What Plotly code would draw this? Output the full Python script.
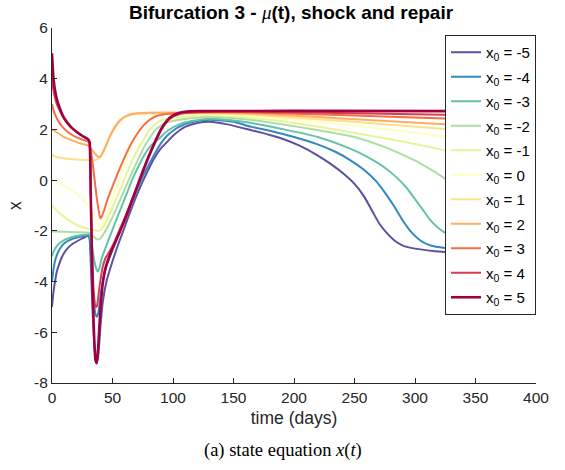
import plotly.graph_objects as go

# ---- data (time in days, state x) ----
X0_LABELS = ["-5", "-4", "-3", "-2", "-1", "0", "1", "2", "3", "4", "5"]
COLORS = ["#5e4fa2", "#3288bd", "#66c2a5", "#abdda4", "#e6f598", "#ffffbf",
          "#fee08b", "#fdae61", "#f46d43", "#d53e4f", "#9e0142"]

T_M5 = [0, 1, 2, 4, 6, 8, 10, 13, 16, 20, 25, 30, 31, 32, 33, 34, 35, 36, 37, 38, 39, 40, 42, 45, 50, 55, 60, 65, 70, 75, 80, 85, 90, 95, 100, 105, 110, 120, 130, 145, 164, 180, 191, 205, 219, 230, 241, 250, 258, 265, 271, 277, 283, 290, 300, 315, 336]
X_M5 = [-5.0, -4.5, -4.15, -3.6, -3.3, -3.05, -2.87, -2.68, -2.55, -2.43, -2.3, -2.2, -2.3, -3.2, -4.5, -5.6, -6.5, -7.05, -7.2, -7.0, -6.5, -5.8, -4.8, -4.0, -3.2, -2.5, -1.85, -1.2, -0.6, -0.05, 0.45, 0.9, 1.25, 1.5, 1.75, 1.95, 2.1, 2.25, 2.3, 2.2, 1.98, 1.78, 1.62, 1.35, 0.99, 0.65, 0.25, -0.15, -0.65, -1.25, -1.75, -2.1, -2.38, -2.58, -2.7, -2.79, -2.86]

T_M4 = [0, 1, 2, 4, 6, 8, 10, 13, 16, 20, 25, 30, 31, 32, 33, 34, 35, 36, 37, 38, 39, 40, 42, 45, 50, 55, 60, 65, 70, 75, 80, 85, 90, 95, 100, 105, 115, 130, 150, 164, 180, 200, 219, 235, 246, 258, 268, 276, 283, 290, 297, 305, 313, 325, 336]
X_M4 = [-4.0, -3.6, -3.3, -2.95, -2.75, -2.6, -2.5, -2.4, -2.33, -2.27, -2.21, -2.17, -2.2, -2.8, -3.7, -4.5, -5.0, -5.3, -5.39, -5.3, -5.0, -4.6, -4.0, -3.4, -2.75, -2.15, -1.55, -0.95, -0.4, 0.15, 0.6, 1.05, 1.45, 1.75, 1.95, 2.1, 2.28, 2.38, 2.3, 2.11, 1.95, 1.7, 1.42, 1.1, 0.8, 0.4, -0.05, -0.55, -1.05, -1.6, -2.05, -2.4, -2.58, -2.68, -2.73]

T_M3 = [0, 1, 2, 4, 6, 8, 10, 13, 16, 20, 25, 30, 31, 33, 35, 37, 38, 39, 41, 44, 48, 52, 57, 62, 67, 72, 77, 82, 88, 93, 100, 110, 130, 150, 164, 190, 219, 246, 262, 274, 285, 293, 300, 307, 313, 320, 329, 336]
X_M3 = [-3.0, -2.85, -2.75, -2.6, -2.5, -2.43, -2.37, -2.3, -2.25, -2.2, -2.16, -2.13, -2.15, -2.6, -3.2, -3.55, -3.6, -3.5, -3.1, -2.7, -2.2, -1.7, -1.1, -0.5, 0.1, 0.6, 1.05, 1.38, 1.62, 1.85, 2.08, 2.28, 2.42, 2.35, 2.26, 2.02, 1.71, 1.25, 0.88, 0.53, 0.1, -0.3, -0.75, -1.2, -1.6, -1.92, -2.2, -2.4]

T_M2 = [0, 10, 20, 30, 32, 34, 36, 38, 40, 43, 47, 52, 57, 62, 67, 72, 76, 80, 85, 90, 95, 105, 130, 165, 190, 219, 250, 274, 290, 301, 310, 318, 325, 331, 336]
X_M2 = [-2.03, -2.04, -2.05, -2.06, -2.1, -2.2, -2.3, -2.34, -2.3, -2.1, -1.75, -1.25, -0.7, -0.15, 0.4, 0.9, 1.3, 1.6, 1.95, 2.15, 2.27, 2.38, 2.5, 2.37, 2.2, 1.98, 1.7, 1.32, 1.0, 0.75, 0.5, 0.28, 0.05, -0.2, -0.45]

T_M1 = [0, 2, 5, 10, 15, 20, 25, 30, 33, 36, 38, 40, 43, 47, 52, 57, 62, 67, 72, 76, 80, 85, 90, 100, 130, 165, 220, 275, 305, 336]
X_M1 = [-1.0, -1.1, -1.25, -1.45, -1.62, -1.75, -1.85, -1.92, -1.96, -1.99, -2.0, -1.97, -1.8, -1.4, -0.85, -0.3, 0.3, 0.85, 1.3, 1.62, 1.95, 2.2, 2.35, 2.46, 2.56, 2.46, 2.11, 1.65, 1.38, 1.06]

T_0 = [0, 5, 10, 15, 20, 25, 30, 33, 36, 38, 40, 42, 45, 50, 55, 60, 65, 70, 75, 80, 85, 90, 100, 130, 165, 210, 250, 290, 336]
X_0 = [0.0, -0.1, -0.22, -0.37, -0.53, -0.75, -1.0, -1.2, -1.5, -1.7, -1.84, -1.75, -1.35, -0.68, -0.03, 0.63, 1.28, 1.8, 2.15, 2.38, 2.5, 2.56, 2.6, 2.6, 2.53, 2.35, 2.15, 1.93, 1.65]

T_P1 = [0, 2, 5, 10, 15, 20, 25, 30, 35, 38, 39.5, 41, 44, 48, 52, 56, 60, 65, 70, 80, 100, 130, 165, 250, 290, 336]
X_P1 = [1.0, 0.95, 0.9, 0.86, 0.83, 0.81, 0.8, 0.79, 0.78, 0.84, 0.89, 0.97, 1.27, 1.72, 2.07, 2.32, 2.47, 2.57, 2.61, 2.63, 2.63, 2.63, 2.58, 2.3, 2.15, 1.98]

T_P2 = [0, 5, 10, 15, 20, 25, 30, 33, 36, 38, 39.5, 41, 44, 48, 52, 56, 60, 65, 70, 80, 100, 130, 165, 250, 336]
X_P2 = [2.0, 1.85, 1.7, 1.6, 1.5, 1.43, 1.36, 1.2, 1.02, 0.93, 0.92, 1.0, 1.3, 1.75, 2.1, 2.35, 2.5, 2.6, 2.64, 2.66, 2.67, 2.66, 2.63, 2.4, 2.17]

T_P3 = [0, 1, 2, 4, 6, 8, 10, 13, 16, 20, 25, 30, 31, 33, 35, 37, 39, 40, 41, 43, 46, 50, 55, 60, 65, 70, 75, 80, 85, 90, 100, 130, 165, 250, 336]
X_P3 = [3.0, 2.8, 2.65, 2.43, 2.27, 2.14, 2.03, 1.9, 1.8, 1.7, 1.6, 1.52, 1.45, 0.9, 0.1, -0.7, -1.3, -1.5, -1.45, -1.2, -0.75, -0.25, 0.35, 0.9, 1.4, 1.8, 2.12, 2.35, 2.5, 2.58, 2.63, 2.68, 2.67, 2.55, 2.41]

T_P4 = [0, 1, 2, 4, 6, 8, 10, 13, 16, 20, 25, 30, 31, 32, 33, 34, 35, 36, 37, 38, 39, 40, 41, 42, 44, 47, 50, 55, 60, 65, 70, 75, 80, 85, 90, 95, 100, 105, 110, 130, 165, 250, 336]
X_P4 = [4.0, 3.6, 3.35, 3.0, 2.78, 2.58, 2.42, 2.23, 2.07, 1.91, 1.74, 1.59, 1.5, -0.5, -2.5, -4.0, -4.7, -5.0, -4.98, -4.7, -4.3, -3.95, -3.65, -3.4, -3.1, -2.85, -2.6, -2.05, -1.5, -0.9, -0.3, 0.3, 0.9, 1.45, 1.95, 2.3, 2.5, 2.6, 2.65, 2.7, 2.7, 2.64, 2.57]

T_P5 = [0, 1, 2, 4, 6, 8, 10, 13, 16, 20, 25, 30, 31, 32, 33, 34, 35, 36, 37, 38, 39, 40, 41, 42, 44, 47, 50, 55, 60, 65, 70, 75, 80, 85, 90, 95, 100, 105, 110, 120, 200, 336]
X_P5 = [5.0, 4.15, 3.7, 3.2, 2.9, 2.65, 2.45, 2.25, 2.08, 1.92, 1.75, 1.6, 1.5, -0.5, -3.0, -5.0, -6.4, -7.1, -7.22, -6.7, -5.9, -5.1, -4.5, -4.05, -3.5, -3.05, -2.7, -2.15, -1.58, -0.95, -0.3, 0.35, 0.95, 1.5, 2.0, 2.35, 2.55, 2.65, 2.7, 2.72, 2.73, 2.72]

SERIES_T = [T_M5, T_M4, T_M3, T_M2, T_M1, T_0, T_P1, T_P2, T_P3, T_P4, T_P5]
SERIES_X = [X_M5, X_M4, X_M3, X_M2, X_M1, X_0, X_P1, X_P2, X_P3, X_P4, X_P5]

X_TICKS = [0, 50, 100, 150, 200, 250, 300, 350, 400]
Y_TICKS = [-8, -6, -4, -2, 0, 2, 4, 6]
Y_TICK_TEXT = ["-8", "-6", "-4", "-2", "0", "2", "4", "6"]

SANS = "Liberation Sans, Arial, Helvetica, sans-serif"
SERIF = "Liberation Serif, Times New Roman, serif"
AX = "#262626"

fig = go.Figure()
for lab, col, t, x in zip(X0_LABELS, COLORS, SERIES_T, SERIES_X):
    fig.add_trace(go.Scatter(
        x=t, y=x, mode="lines", name=f"x<sub>0</sub> = {lab}",
        legendgroup=lab,
        line=dict(color=col, width=2.6 if lab == "5" else 2, shape="spline", smoothing=0.6),
    ))

axis_common = dict(showline=True, linecolor=AX, linewidth=1, ticks="inside", ticklen=5,
                   tickcolor=AX, showgrid=False, zeroline=False, mirror=False,
                   tickfont=dict(family=SANS, size=15.5, color=AX))

fig.update_layout(
    width=565, height=470,
    margin=dict(l=52, r=29, t=28, b=87),
    paper_bgcolor="white", plot_bgcolor="white",
    xaxis=dict(range=[0, 400], tickvals=X_TICKS, **axis_common,
               title=dict(text="time (days)", font=dict(family=SANS, size=17.5, color=AX), standoff=7)),
    yaxis=dict(range=[-8, 6], tickvals=Y_TICKS, ticktext=Y_TICK_TEXT, **axis_common,
               title=dict(text="x", font=dict(family=SANS, size=17.5, color=AX), standoff=7)),
    title=dict(text="<b>Bifurcation 3 - </b><span style='font-family:Liberation Serif'><i>μ</i></span><b>(t), shock and repair</b>",
               x=(291 - 52) / 484, xref="paper", xanchor="center", y=1 - 12 / 470, yref="container", yanchor="middle",
               font=dict(family=SANS, size=19, color="black")),
    legend=dict(x=1, xanchor="right", y=(383 - 35) / 355, yanchor="top",
                bgcolor="white", bordercolor=AX, borderwidth=1,
                font=dict(family=SANS, size=15, color="black"),
                itemwidth=30, tracegroupgap=2, traceorder="grouped"),
    showlegend=True,
)

fig.add_annotation(text="(a) state equation <i>x</i>(<i>t</i>)", xref="paper", yref="paper",
                   x=(283 - 52) / 484, y=(383 - 450) / 355, xanchor="center", yanchor="middle",
                   showarrow=False, font=dict(family=SERIF, size=18.5, color="black"))

fig.write_html("out.html")
